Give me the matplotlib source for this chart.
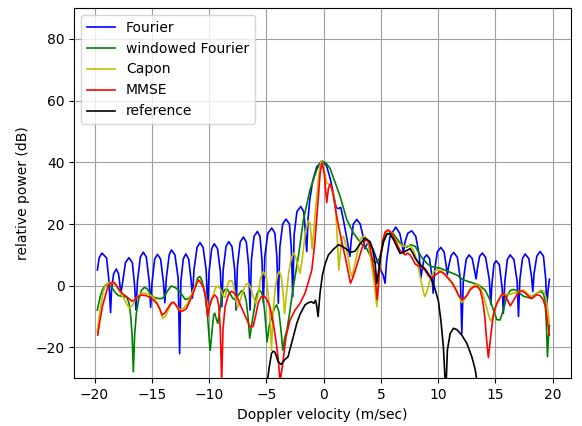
import numpy as np
import matplotlib
matplotlib.use("Agg")
import matplotlib.pyplot as plt

# (velocity m/s, power dB) samples for each spectral estimate
fourier = [
    (-19.75, 5.1), (-19.6, 9.0), (-19.35, 10.6), (-18.95, 9.0), (-18.75, 2.0), (-18.6, -8.7),
    (-18.51, -1.0), (-18.33, 3.9), (-18.1, 5.4), (-17.9, 3.9), (-17.78, 0.0), (-17.7, -2.4),
    (-17.57, 0.5), (-17.3, 7.5), (-17.0, 9.1), (-16.7, 7.5), (-16.5, 0.0), (-16.38, -7.9),
    (-16.25, 1.5), (-16.0, 9.3), (-15.74, 10.9), (-15.48, 9.3), (-15.23, 1.5), (-15.1, -7.0),
    (-14.98, 1.0), (-14.75, 8.6), (-14.51, 10.2), (-14.23, 8.6), (-13.98, 1.0), (-13.86, -5.5),
    (-13.73, 2.5), (-13.48, 10.0), (-13.29, 11.6), (-12.98, 10.0), (-12.7, 2.5), (-12.57, -22.0),
    (-12.46, 1.5), (-12.25, 8.7), (-12.03, 10.3), (-11.78, 8.7), (-11.56, 1.5), (-11.45, -4.0),
    (-11.32, 5.0), (-11.05, 12.4), (-10.79, 14.0), (-10.52, 12.4), (-10.25, 5.0), (-10.12, -8.0),
    (-10.0, 4.5), (-9.77, 12.0), (-9.55, 13.6), (-9.26, 12.0), (-9.01, 4.5), (-8.89, -6.8),
    (-8.77, 5.0), (-8.52, 12.7), (-8.28, 14.3), (-8.0, 12.7), (-7.76, 5.0), (-7.64, -7.9),
    (-7.52, 6.5), (-7.28, 14.2), (-7.0, 15.8), (-6.75, 14.2), (-6.54, 6.5), (-6.42, -7.9),
    (-6.3, 8.5), (-6.07, 16.0), (-5.78, 17.6), (-5.55, 16.0), (-5.38, 8.5), (-5.26, -5.5),
    (-5.13, 9.5), (-4.87, 17.0), (-4.52, 18.7), (-4.25, 17.0), (-4.08, 9.5), (-3.95, -5.7),
    (-3.82, 12.5), (-3.57, 20.0), (-3.28, 21.6), (-2.98, 20.0), (-2.82, 12.5), (-2.69, -3.5),
    (-2.57, 16.5), (-2.33, 24.0), (-1.99, 25.7), (-1.73, 24.0), (-1.6, 18.0), (-1.47, 11.1),
    (-1.35, 22.0), (-1.2, 28.0), (-0.95, 34.0), (-0.6, 38.5), (-0.15, 40.4), (0.25, 39.0),
    (0.6, 34.5), (0.9, 29.0), (1.1, 25.3), (1.3, 25.0), (1.5, 25.4), (1.75, 21.0), (2.05, 15.0),
    (2.3, 9.5), (2.42, 15.0), (2.6, 20.0), (2.9, 21.5), (3.2, 20.0), (3.45, 16.0), (3.6, 12.0),
    (3.8, 13.5), (4.0, 14.0), (4.3, 12.0), (4.65, 8.4), (5.0, 5.0), (5.2, 3.5), (5.37, 0.8),
    (5.5, 8.0), (5.8, 16.0), (6.3, 19.0), (6.65, 17.0), (6.85, 13.5), (6.97, 10.6),
    (7.1, 14.0), (7.35, 17.0), (7.7, 17.8), (8.05, 16.0), (8.35, 10.0), (8.5, 2.5),
    (8.6, 5.0), (8.78, 9.0), (9.01, 10.0), (9.25, 8.8), (9.46, 3.0), (9.57, -2.4),
    (9.7, 5.0), (9.93, 11.0), (10.24, 12.4), (10.52, 11.0), (10.71, 6.5), (10.81, 3.5),
    (10.93, 6.5), (11.14, 9.8), (11.37, 10.8), (11.68, 9.2), (11.95, 2.0), (12.07, -15.5),
    (12.2, 1.5), (12.45, 8.5), (12.7, 10.0), (12.98, 8.8), (13.2, 4.5), (13.32, 2.2),
    (13.43, 5.5), (13.62, 9.5), (13.86, 10.6), (14.15, 9.2), (14.47, 2.0), (14.6, -6.0),
    (14.7, 0.5), (14.88, 7.0), (15.07, 8.1), (15.35, 6.8), (15.6, -1.0), (15.7, -8.9),
    (15.83, 1.5), (16.05, 8.5), (16.29, 10.0), (16.62, 8.5), (16.9, 1.5), (17.02, -10.0),
    (17.14, 2.0), (17.37, 8.8), (17.6, 10.3), (17.92, 8.8), (18.16, 3.0), (18.27, -1.9),
    (18.38, 4.0), (18.62, 9.6), (18.91, 11.1), (19.2, 9.6), (19.4, 2.0), (19.49, -6.8),
    (19.6, -1.5), (19.72, 2.1),
]

windowed = [
    (-19.76, -7.9), (-19.5, -3.5), (-19.3, -1.2), (-19.0, 0.3), (-18.75, 0.2), (-18.5, -0.5),
    (-18.2, -2.2), (-17.9, -3.2), (-17.5, -3.5), (-17.2, -3.6), (-17.0, -5.5), (-16.85, -9.5),
    (-16.72, -16.0), (-16.61, -27.9), (-16.5, -16.0), (-16.35, -9.0), (-16.15, -4.5), (-15.9, -1.5),
    (-15.65, -0.5), (-15.4, -1.0), (-15.1, -2.8), (-14.8, -3.8), (-14.5, -4.1), (-14.2, -4.2),
    (-13.95, -3.8), (-13.65, -1.8), (-13.3, -0.1), (-13.0, -0.5), (-12.7, -1.3), (-12.35, -3.0),
    (-12.1, -4.4), (-11.8, -4.2), (-11.5, -3.0), (-11.25, -0.5), (-11.0, 2.5), (-10.8, 3.0),
    (-10.6, 1.5), (-10.35, -3.0), (-10.15, -9.0), (-9.95, -19.0), (-9.9, -20.9), (-9.8, -17.0),
    (-9.6, -9.5), (-9.5, -8.9), (-9.35, -11.0), (-9.24, -12.2), (-9.1, -9.0), (-8.9, -3.5),
    (-8.65, -1.3), (-8.45, -1.0), (-8.2, -2.4), (-7.95, -4.0), (-7.7, -4.6), (-7.45, -3.0),
    (-7.15, -1.6), (-6.95, -2.2), (-6.75, -5.0), (-6.6, -10.0), (-6.45, -17.0), (-6.25, -12.0),
    (-6.05, -7.5), (-5.85, -3.0), (-5.65, -1.4), (-5.45, -2.0), (-5.3, -3.5), (-5.15, -8.0),
    (-4.93, -18.2), (-4.75, -13.0), (-4.52, -10.0), (-4.3, -7.3), (-4.09, -6.2), (-3.9, -8.5),
    (-3.7, -15.0), (-3.56, -20.9), (-3.4, -17.0), (-3.2, -14.4), (-2.93, -7.9), (-2.64, -0.3),
    (-2.4, 5.0), (-2.2, 9.5), (-1.76, 21.4), (-1.18, 31.2), (-0.59, 37.7), (-0.16, 40.4),
    (0.2, 39.8), (0.57, 38.0), (1.0, 33.5), (1.44, 29.0), (2.03, 21.4), (2.6, 17.1),
    (3.04, 14.9), (3.34, 13.5), (3.77, 12.0), (4.1, 9.6), (4.5, 7.3), (4.8, 8.2), (5.0, 10.5),
    (5.22, 14.0), (5.5, 16.5), (5.8, 17.2), (6.1, 16.8), (6.45, 15.0), (6.83, 13.2),
    (7.27, 12.5), (7.6, 13.3), (8.0, 12.8), (8.3, 10.8), (8.72, 8.4), (9.1, 7.0), (9.45, 6.2),
    (10.17, 5.7), (10.9, 4.6), (11.63, 3.5), (12.21, 1.9), (12.94, 1.0), (13.52, 0.3),
    (14.1, -1.4), (14.54, -4.6), (14.83, -7.9), (15.13, -11.0), (15.41, -11.1), (15.7, -7.9),
    (16.0, -3.5), (16.29, -1.6), (16.6, -1.2), (16.87, -1.6), (17.2, -2.6), (17.45, -3.4),
    (18.03, -4.0), (18.35, -3.2), (18.62, -2.4), (19.0, -1.9), (19.2, -2.6), (19.35, -5.0),
    (19.45, -12.0), (19.55, -23.0), (19.65, -16.0), (19.72, -12.8),
]

capon = [
    (-19.76, -14.9), (-19.6, -10.0), (-19.46, -6.8), (-19.25, -2.0), (-19.08, -0.3), (-18.85, 0.8),
    (-18.65, 1.2), (-18.36, 0.8), (-18.06, -0.3), (-17.8, -2.0), (-17.49, -3.8), (-17.2, -5.8),
    (-16.95, -7.3), (-16.7, -6.5), (-16.45, -4.5), (-16.2, -3.2), (-15.88, -2.4), (-15.5, -2.5),
    (-15.15, -3.0), (-14.8, -4.0), (-14.51, -5.7), (-14.25, -8.5), (-14.04, -10.6), (-13.8, -9.8),
    (-13.55, -7.8), (-13.3, -6.0), (-13.1, -5.6), (-12.82, -6.5), (-12.5, -7.9), (-12.2, -7.2),
    (-11.86, -5.7), (-11.5, -2.5), (-11.22, 0.0), (-10.99, 1.8), (-10.75, 1.5), (-10.5, -0.5),
    (-10.35, -2.0), (-10.2, -5.0), (-10.06, -7.5), (-9.85, -6.0), (-9.6, -2.5), (-9.4, -0.5),
    (-9.19, -0.1), (-8.95, -1.5), (-8.75, -3.5), (-8.6, -3.8), (-8.45, -0.5), (-8.25, 1.5),
    (-8.02, 1.7), (-7.85, 0.0), (-7.7, -3.5), (-7.53, -7.3), (-7.3, -5.0), (-7.0, -1.4),
    (-6.8, 0.3), (-6.57, 0.8), (-6.35, -0.8), (-6.15, -3.5), (-5.9, -5.7), (-5.7, -2.5),
    (-5.5, 2.5), (-5.26, 4.6), (-5.0, 2.5), (-4.85, -2.0), (-4.7, -9.0), (-4.55, -20.9),
    (-4.4, -8.0), (-4.2, 0.0), (-4.0, 3.8), (-3.86, 4.6), (-3.7, 3.0), (-3.55, -2.0),
    (-3.4, -9.0), (-3.25, -3.0), (-3.05, 4.0), (-2.85, 8.5), (-2.64, 10.6), (-2.45, 9.5),
    (-2.25, 6.5), (-2.05, 4.0), (-1.85, 9.0), (-1.6, 17.0), (-1.35, 21.0), (-1.2, 20.5),
    (-1.1, 17.0), (-1.0, 12.0), (-0.85, 18.0), (-0.65, 27.0), (-0.45, 34.5), (-0.3, 39.0),
    (-0.2, 40.5), (-0.05, 39.5), (0.13, 36.0), (0.28, 33.3), (0.57, 32.5), (0.86, 30.0),
    (1.05, 25.0), (1.2, 15.0), (1.33, 5.1), (1.45, 10.0), (1.59, 15.5), (1.75, 16.0),
    (1.95, 13.0), (2.15, 9.0), (2.31, 5.0), (2.5, 3.0), (2.7, 6.5), (2.9, 10.0), (3.15, 14.0),
    (3.34, 15.8), (3.62, 16.0), (3.85, 14.5), (4.05, 10.5), (4.25, 5.5), (4.45, 0.0),
    (4.65, -6.8), (4.8, 0.0), (4.95, 8.4), (5.15, 14.0), (5.37, 17.0), (5.7, 17.8),
    (5.95, 17.2), (6.39, 14.3), (6.97, 12.7), (7.55, 13.0), (7.85, 11.5), (8.14, 8.4),
    (8.4, 3.5), (8.58, 0.3), (8.75, -2.5), (8.86, -3.5), (9.05, -1.5), (9.3, 1.9), (9.6, 4.5),
    (9.9, 5.2), (10.32, 4.8), (10.8, 3.0), (11.2, 1.2), (11.5, -0.5), (11.75, -2.8),
    (12.07, -5.5), (12.35, -4.3), (12.6, -2.2), (12.9, -0.5), (13.3, 0.5), (13.52, 0.2),
    (13.75, -1.2), (13.96, -3.2), (14.2, -6.5), (14.45, -10.0), (14.6, -11.5), (14.8, -10.0),
    (15.0, -7.0), (15.2, -5.0), (15.5, -3.5), (15.8, -2.6), (16.29, -2.8), (16.6, -2.4),
    (16.87, -2.2), (17.2, -1.6), (17.45, -1.4), (17.75, -2.4), (18.03, -3.2), (18.3, -3.6),
    (18.62, -2.5), (18.9, -1.6), (19.06, -1.4), (19.25, -1.9), (19.4, -3.5), (19.55, -7.0),
    (19.72, -12.0),
]

mmse = [
    (-19.72, -16.0), (-19.52, -11.1), (-19.3, -6.5), (-19.08, -3.5), (-18.85, -0.5), (-18.65, 0.6),
    (-18.4, 1.3), (-18.15, 0.5), (-17.9, -1.0), (-17.62, -2.4), (-17.3, -3.3), (-17.0, -4.2),
    (-16.75, -5.0), (-16.5, -4.6), (-16.25, -3.6), (-15.9, -3.0), (-15.5, -3.2), (-15.2, -3.7),
    (-14.9, -4.5), (-14.57, -5.7), (-14.3, -7.5), (-14.1, -9.5), (-13.85, -8.8), (-13.6, -7.3),
    (-13.3, -5.6), (-13.1, -5.3), (-12.85, -6.5), (-12.6, -8.2), (-12.3, -8.2), (-12.0, -7.5),
    (-11.7, -5.2), (-11.4, -2.5), (-11.1, 0.5), (-10.93, 1.9), (-10.7, 0.8), (-10.5, -0.5),
    (-10.3, -3.5), (-10.12, -10.0), (-9.95, -6.5), (-9.77, -4.2), (-9.5, -3.0), (-9.3, -3.8),
    (-9.15, -6.5), (-9.02, -14.0), (-8.9, -31.0), (-8.78, -14.0), (-8.6, -6.8), (-8.31, -3.0),
    (-8.05, -1.8), (-7.8, -2.4), (-7.55, -3.6), (-7.3, -6.0), (-7.0, -8.5), (-6.7, -11.0),
    (-6.42, -13.3), (-6.15, -13.2), (-5.95, -10.0), (-5.7, -5.5), (-5.45, -3.6), (-5.2, -3.3),
    (-4.95, -4.5), (-4.7, -6.5), (-4.4, -12.0), (-4.15, -18.0), (-3.95, -24.0), (-3.8, -31.0),
    (-3.56, -25.2), (-3.28, -16.5), (-2.93, -11.1), (-2.49, -7.9), (-2.05, -5.7), (-1.62, -2.4),
    (-1.3, 1.5), (-1.03, 5.1), (-0.85, 11.0), (-0.74, 15.0), (-0.6, 22.0), (-0.45, 29.0),
    (-0.3, 36.5), (-0.15, 39.8), (-0.05, 38.5), (0.07, 36.0), (0.18, 31.0), (0.28, 27.0),
    (0.42, 31.5), (0.57, 33.0), (0.7, 32.0), (0.86, 29.0), (1.1, 23.5), (1.3, 19.5),
    (1.6, 14.0), (1.88, 9.5), (2.1, 5.5), (2.35, 0.8), (2.55, 2.5), (2.75, 4.8), (3.05, 8.5),
    (3.34, 12.0), (3.6, 14.5), (3.8, 15.0), (4.0, 13.5), (4.2, 9.5), (4.4, 5.0), (4.55, 1.0),
    (4.68, -4.5), (4.8, 1.0), (4.95, 8.4), (5.15, 14.5), (5.37, 17.4), (5.6, 18.1),
    (5.85, 17.5), (6.1, 16.0), (6.4, 13.5), (6.68, 11.4), (6.95, 10.5), (7.15, 10.0),
    (7.35, 10.6), (7.55, 10.0), (7.8, 8.5), (8.0, 7.0), (8.3, 6.4), (8.6, 6.0), (8.86, 5.0),
    (9.1, 3.5), (9.3, 2.6), (9.55, 2.9), (9.8, 3.6), (10.17, 4.6), (10.5, 4.0), (10.9, 2.3),
    (11.2, 1.0), (11.48, -0.8), (11.8, -3.2), (12.07, -4.4), (12.3, -4.0), (12.55, -3.0),
    (12.8, -1.3), (13.1, -0.4), (13.4, -0.1), (13.67, -1.4), (13.85, -4.0), (13.96, -6.5),
    (14.1, -11.0), (14.2, -16.0), (14.39, -23.3), (14.55, -18.0), (14.7, -13.0), (14.83, -9.5),
    (15.05, -6.5), (15.27, -4.8), (15.5, -3.2), (15.7, -2.4), (15.95, -3.8), (16.3, -6.5),
    (16.55, -5.0), (16.8, -3.4), (17.1, -1.8), (17.31, -1.7), (17.6, -2.3), (17.9, -3.4),
    (18.17, -4.2), (18.4, -3.5), (18.62, -2.9), (18.9, -3.2), (19.15, -4.4), (19.35, -6.5),
    (19.5, -10.0), (19.6, -13.0), (19.72, -16.0),
]

reference = [
    (-4.9, -31.0), (-4.75, -26.5), (-4.55, -22.0), (-4.4, -21.2), (-4.25, -21.5), (-3.95, -24.7),
    (-3.7, -25.5), (-3.4, -24.0), (-3.1, -23.0), (-2.93, -20.5), (-2.64, -16.5), (-2.34, -12.2),
    (-2.05, -9.2), (-1.62, -6.2), (-1.33, -5.5), (-1.05, -5.2), (-0.85, -5.7), (-0.7, -4.7),
    (-0.6, -6.5), (-0.48, -10.0), (-0.31, -2.4), (-0.1, 3.5), (0.13, 7.0), (0.42, 10.0),
    (0.86, 11.8), (1.3, 13.3), (1.6, 12.8), (2.03, 11.8), (2.31, 10.8), (2.75, 11.2),
    (3.19, 13.6), (3.62, 15.4), (4.06, 14.3), (4.3, 11.5), (4.5, 7.3), (4.65, 0.8), (4.85, 6.0),
    (5.0, 10.0), (5.22, 14.3), (5.52, 16.8), (5.8, 16.8), (6.1, 15.0), (6.39, 12.7),
    (6.68, 10.5), (6.95, 10.8), (7.2, 11.3), (7.55, 12.0), (7.8, 10.5), (7.99, 9.0),
    (8.43, 6.8), (8.86, 5.5), (9.3, 3.0), (9.6, 0.5), (9.8, -2.0), (10.03, -5.0),
    (10.25, -11.5), (10.46, -19.8), (10.61, -30.5), (10.68, -34.0), (10.81, -20.9),
    (11.05, -15.5), (11.34, -13.8), (11.63, -14.2), (12.07, -16.0), (12.51, -18.7),
    (12.94, -23.0), (13.23, -27.0), (13.4, -31.0),
]

series = [
    (fourier, 'b', 'Fourier'),
    (windowed, 'g', 'windowed Fourier'),
    (capon, 'y', 'Capon'),
    (mmse, 'r', 'MMSE'),
    (reference, 'k', 'reference'),
]

fig = plt.figure(figsize=(5.82, 4.26), dpi=100)
ax = fig.add_axes([0.128, 0.112, 0.853, 0.869])

for pts, col, name in series:
    v, p = np.array(pts).T
    ax.plot(v, p, color=col, lw=1.2, label=name)

ax.set_xlim(-21.75, 21.6)
ax.set_ylim(-30, 90)
ax.set_xticks(np.arange(-20, 21, 5))
ax.set_yticks(np.arange(-20, 81, 20))
ax.grid(True, color='#a0a0a0')
ax.set_xlabel('Doppler velocity (m/sec)')
ax.set_ylabel('relative power (dB)')
ax.legend(loc='upper left')

fig.savefig('out.png', dpi=100)
